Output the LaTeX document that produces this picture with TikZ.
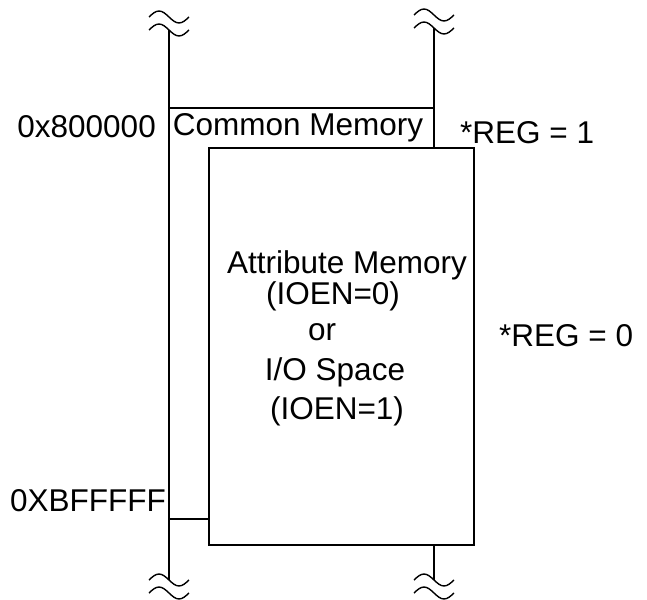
\documentclass[tikz,border=0pt]{standalone}
\usepackage{fontspec}
\setmainfont{Liberation Sans}
\usetikzlibrary{positioning, calc}

% a broken-line mark: two small waves stacked over a bus line
\newcommand{\busbreak}[2]{%
  \draw[brk] (#1-20,#2) sin (#1-10,#2-6) cos (#1,#2) sin (#1+10,#2+6) cos (#1+20,#2);
  \draw[brk] (#1-20,#2+13) sin (#1-10,#2+7) cos (#1,#2+13) sin (#1+10,#2+19) cos (#1+20,#2+13);}

\tikzset{
  bus/.style={line width=2.2pt},
  brk/.style={line width=1.4pt},
  lbl/.style={inner sep=0pt}
}

\begin{document}
\begin{tikzpicture}[x=1pt, y=-1pt, every node/.style={font=\fontsize{31.5}{36}\selectfont}]
  \useasboundingbox (0,0) rectangle (647,599);

  % bus rails and the region edges
  \coordinate (ltop) at (169,30);
  \coordinate (lbot) at (169,580);
  \coordinate (rtop) at (434,28);
  \coordinate (rbot) at (434,580);
  \coordinate (cmtl) at (169,108);
  \coordinate (cmtr) at (434,108);

  \node[bus, draw, minimum width=265pt, minimum height=397pt, inner sep=0pt, anchor=north west]
    (attr) at (208,147) {};

  \draw[bus] (ltop) -- (lbot);
  \draw[bus] (cmtl) -- (cmtr);
  \draw[bus] (rtop) -- (rtop |- attr.north);
  \draw[bus] (rbot |- attr.south) -- (rbot);
  \draw[bus] (ltop |- 0,519) -- (attr.west |- 0,519);

  \busbreak{169}{17}
  \busbreak{434}{15}
  \busbreak{169}{580}
  \busbreak{434}{580}

  % address and region labels
  \node[lbl, anchor=east] (lo) at (156,127) {0x800000};
  \node[lbl] (cm) at (298,128) {Common Memory};
  \node[lbl, anchor=west] (reg1) at (460,133) {*REG = 1};
  \node[lbl, anchor=east] (hi) at (166,501) {0XBFFFFF};
  \node[lbl, anchor=west] (reg0) at (499,336) {*REG = 0};

  % text block inside the attribute box, set on baselines
  \node[lbl, anchor=base] (am) at (347,273) {Attribute Memory};
  \node[lbl, anchor=base] (ioen0) at (333,304) {(IOEN=0)};
  \node[lbl, anchor=base] (or) at (322,340) {or};
  \node[lbl, anchor=base] (io) at (335,380) {I/O Space};
  \node[lbl, anchor=base] (ioen1) at (337,419) {(IOEN=1)};
\end{tikzpicture}
\end{document}
